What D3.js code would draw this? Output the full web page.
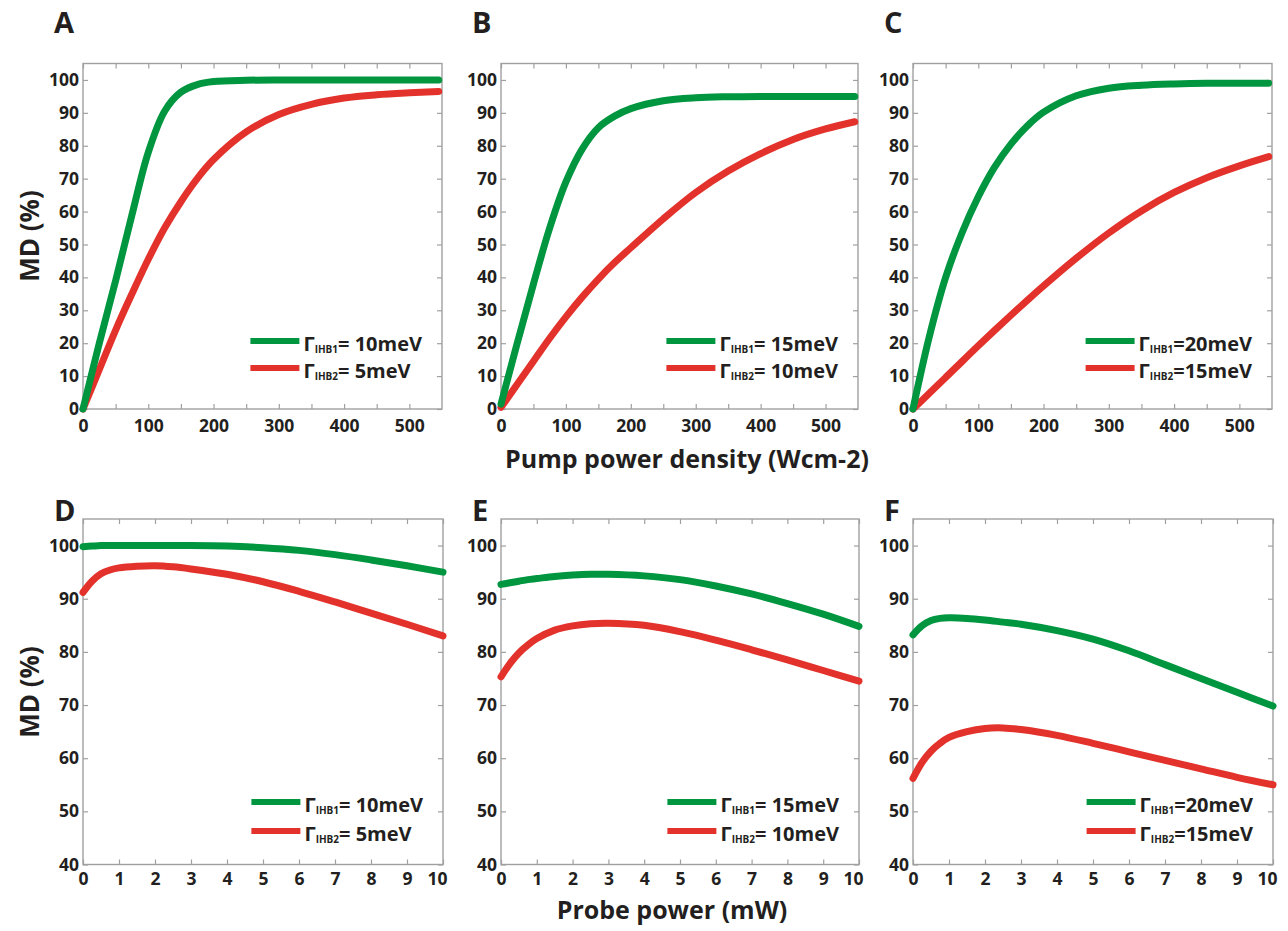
<!DOCTYPE html>
<html>
<head>
<meta charset="utf-8">
<script src="https://cdn.jsdelivr.net/npm/d3@7"></script>
<style>
  body { margin: 0; background: #fff; }
  svg { font-family: 'Open Sans', sans-serif; }
  .tick text { font-family: 'Open Sans', sans-serif; font-size: 17.5px; font-weight: 700; fill: #231f20; }
  .tick line { stroke: #a0a0a0; stroke-width: 1.2; }
  .frame { fill: none; stroke: #a0a0a0; stroke-width: 1.4; }
  .letter { font-size: 29px; font-weight: 700; fill: #231f20; }
  .title { font-size: 25px; font-weight: 700; fill: #231f20; }
  .legend { font-size: 20px; font-weight: 700; fill: #231f20; }
</style>
</head>
<body>
<svg id="fig"></svg>
<script>
// Top row: MD vs pump power density
var pumpX = [0, 25, 50, 75, 100, 125, 150, 175, 200, 250, 300, 350, 400, 450, 500, 545];
var aGreen = [0, 20, 39, 59, 78, 90.5, 96.3, 98.6, 99.5, 99.9, 100, 100, 100, 100, 100, 100];
var aRed   = [0, 12, 24, 35, 45.5, 55, 63, 70, 75.8, 84.2, 89.5, 92.6, 94.5, 95.5, 96.1, 96.5];
var bGreen = [1.5, 20, 38, 55, 69, 79, 85.5, 89, 91.3, 93.7, 94.6, 94.9, 95, 95, 95, 95];
var bRed   = [0.5, 7.5, 14.5, 21.5, 28, 34, 39.5, 44.5, 49, 57.8, 65.8, 72.3, 77.6, 81.9, 85.1, 87.3];
var cGreen = [0, 22, 40, 53.5, 64.5, 73.5, 80.5, 86, 90.2, 95.2, 97.5, 98.4, 98.8, 99, 99, 99];
var cRed   = [0, 4.8, 9.6, 14.4, 19.2, 23.9, 28.5, 33, 37.4, 45.8, 53.5, 60.2, 65.8, 70.3, 73.9, 76.7];

// Bottom row: MD vs probe power
var probeX = [0, 0.25, 0.5, 0.75, 1, 1.5, 2, 2.5, 3, 4, 5, 6, 7, 8, 9, 10];
var dGreen = [99.8, 99.9, 100, 100, 100, 100, 100, 100, 100, 99.9, 99.6, 99.1, 98.3, 97.3, 96.2, 95];
var dRed   = [91.2, 93.3, 94.7, 95.4, 95.8, 96.1, 96.2, 96, 95.6, 94.6, 93.2, 91.4, 89.4, 87.3, 85.2, 83];
var eGreen = [92.7, 93, 93.3, 93.6, 93.8, 94.2, 94.45, 94.6, 94.6, 94.3, 93.6, 92.4, 90.9, 89.1, 87.1, 84.8];
var eRed   = [75.3, 77.8, 79.8, 81.3, 82.5, 84.1, 84.9, 85.3, 85.4, 85, 83.8, 82.2, 80.4, 78.5, 76.5, 74.5];
var fGreen = [83.2, 84.9, 85.9, 86.3, 86.4, 86.3, 86, 85.6, 85.2, 84, 82.4, 80.2, 77.6, 75, 72.4, 69.8];
var fRed   = [56.2, 59.2, 61.3, 62.8, 63.9, 65, 65.6, 65.7, 65.4, 64.3, 62.8, 61.2, 59.6, 58, 56.4, 55];

// Ticks and legend labels
var pumpTicks = [0, 50, 100, 150, 200, 250, 300, 350, 400, 450, 500];
var probeTicks = [0, 1, 2, 3, 4, 5, 6, 7, 8, 9, 10];
var mdTicksTop = [0, 10, 20, 30, 40, 50, 60, 70, 80, 90, 100];
var mdTicksBottom = [40, 50, 60, 70, 80, 90, 100];
var legendGreen = ['= 10meV', '= 15meV', '=20meV'];
var legendRed = ['= 5meV', '= 10meV', '=15meV'];

var green = '#009640', red = '#e3322b';

var svg = d3.select('#fig').attr('width', 1288).attr('height', 931);

function Panel(p) {
    var x = d3.scaleLinear().domain(p.xDomain).range([p.left, p.right]);
    var y = d3.scaleLinear().domain(p.yDomain).range([p.bottom, p.top]);
    var g = svg.append('g');

    // axes, ticks pointing inward
    var eixoX = g.append('g')
        .attr('transform', 'translate(0,' + p.bottom + ')')
        .call(d3.axisBottom(x).tickValues(p.xTicks).tickSize(-5).tickPadding(p.xPad)
            .tickFormat(p.xFormat));
    // last label sits a little left of its tick, as in the original
    eixoX.selectAll('.tick text').filter(function(d) { return d === 10; }).attr('dx', -6);
    g.append('g')
        .attr('transform', 'translate(0,' + p.top + ')')
        .call(d3.axisTop(x).tickValues(p.xTicks).tickSize(-5).tickFormat(''));
    g.append('g')
        .attr('transform', 'translate(' + p.left + ',0)')
        .call(d3.axisLeft(y).tickValues(p.yTicks).tickSize(-5).tickPadding(4));
    g.append('g')
        .attr('transform', 'translate(' + p.right + ',0)')
        .call(d3.axisRight(y).tickValues(p.yTicks).tickSize(-5).tickFormat(''));
    g.selectAll('.domain').remove();

    g.append('rect')
        .attr('class', 'frame')
        .attr('x', p.left).attr('y', p.top)
        .attr('width', p.right - p.left).attr('height', p.bottom - p.top);

    // curves
    var line = d3.line()
        .x(function(d, i) { return x(p.xs[i]); })
        .y(function(d) { return y(d); })
        .curve(d3.curveCatmullRom.alpha(0.5));
    [[p.red, red], [p.green, green]].forEach(function(s) {
        g.append('path')
            .attr('d', line(s[0]))
            .attr('fill', 'none')
            .attr('stroke', s[1])
            .attr('stroke-width', 7)
            .attr('stroke-linecap', 'round');
    });

    // panel letter
    g.append('text').attr('class', 'letter')
        .attr('x', p.left - 29).attr('y', p.letterY)
        .text(p.letter);

    // legend, right aligned inside the frame
    var items = [{ c: green, sub: 'IHB1', txt: p.legG, ly: p.bottom - p.legOff[0] },
                 { c: red, sub: 'IHB2', txt: p.legR, ly: p.bottom - p.legOff[1] }];
    var texts = items.map(function(it) {
        var t = g.append('text').attr('class', 'legend').attr('y', it.ly + 10);
        t.append('tspan').text('\u0393');
        t.append('tspan').attr('font-size', 10).attr('dy', 1.5).text(it.sub);
        t.append('tspan').attr('dy', -1.5).text(it.txt);
        return t;
    });
    var w = d3.max(texts, function(t) { return t.node().getComputedTextLength(); });
    var tx = p.right - 20 - w;
    texts.forEach(function(t) { t.attr('x', tx); });
    items.forEach(function(it) {
        g.append('line')
            .attr('x1', tx - 53).attr('x2', tx - 4)
            .attr('y1', it.ly).attr('y2', it.ly)
            .attr('stroke', it.c).attr('stroke-width', 6);
    });
}

var cols = [[83, 442], [501, 858], [913, 1272]];
var topGreens = [aGreen, bGreen, cGreen], topReds = [aRed, bRed, cRed];
var botGreens = [dGreen, eGreen, fGreen], botReds = [dRed, eRed, fRed];

cols.forEach(function(c, i) {
    new Panel({
        left: c[0], right: c[1], top: 63.5, bottom: 409,
        xDomain: [0, 550], yDomain: [0, 105],
        xTicks: pumpTicks, yTicks: mdTicksTop, xPad: 11,
        xFormat: function(d) { return d % 100 === 0 ? d : ''; },
        xs: pumpX, green: topGreens[i], red: topReds[i],
        letter: 'ABC'[i], letterY: 33,
        legG: legendGreen[i], legR: legendRed[i], legOff: [68, 41]
    });
    new Panel({
        left: c[0], right: c[1] + 1, top: 519, bottom: 864.5,
        xDomain: [0, 10], yDomain: [40, 105],
        xTicks: probeTicks, yTicks: mdTicksBottom, xPad: 8,
        xFormat: d3.format('d'),
        xs: probeX, green: botGreens[i], red: botReds[i],
        letter: 'DEF'[i], letterY: 521,
        legG: legendGreen[i], legR: legendRed[i], legOff: [62.5, 33.5]
    });
});

// axis titles
svg.append('text').attr('class', 'title')
    .attr('text-anchor', 'middle')
    .attr('transform', 'translate(39,236) rotate(-90)')
    .style('font-size', '26px')
    .text('MD (%)');
svg.append('text').attr('class', 'title')
    .attr('text-anchor', 'middle')
    .attr('transform', 'translate(39,692) rotate(-90)')
    .style('font-size', '26px')
    .text('MD (%)');
svg.append('text').attr('class', 'title')
    .attr('text-anchor', 'middle')
    .attr('x', 687).attr('y', 468)
    .text('Pump power density (Wcm-2)');
svg.append('text').attr('class', 'title')
    .attr('text-anchor', 'middle')
    .attr('x', 672).attr('y', 919)
    .text('Probe power (mW)');
</script>
</body>
</html>
